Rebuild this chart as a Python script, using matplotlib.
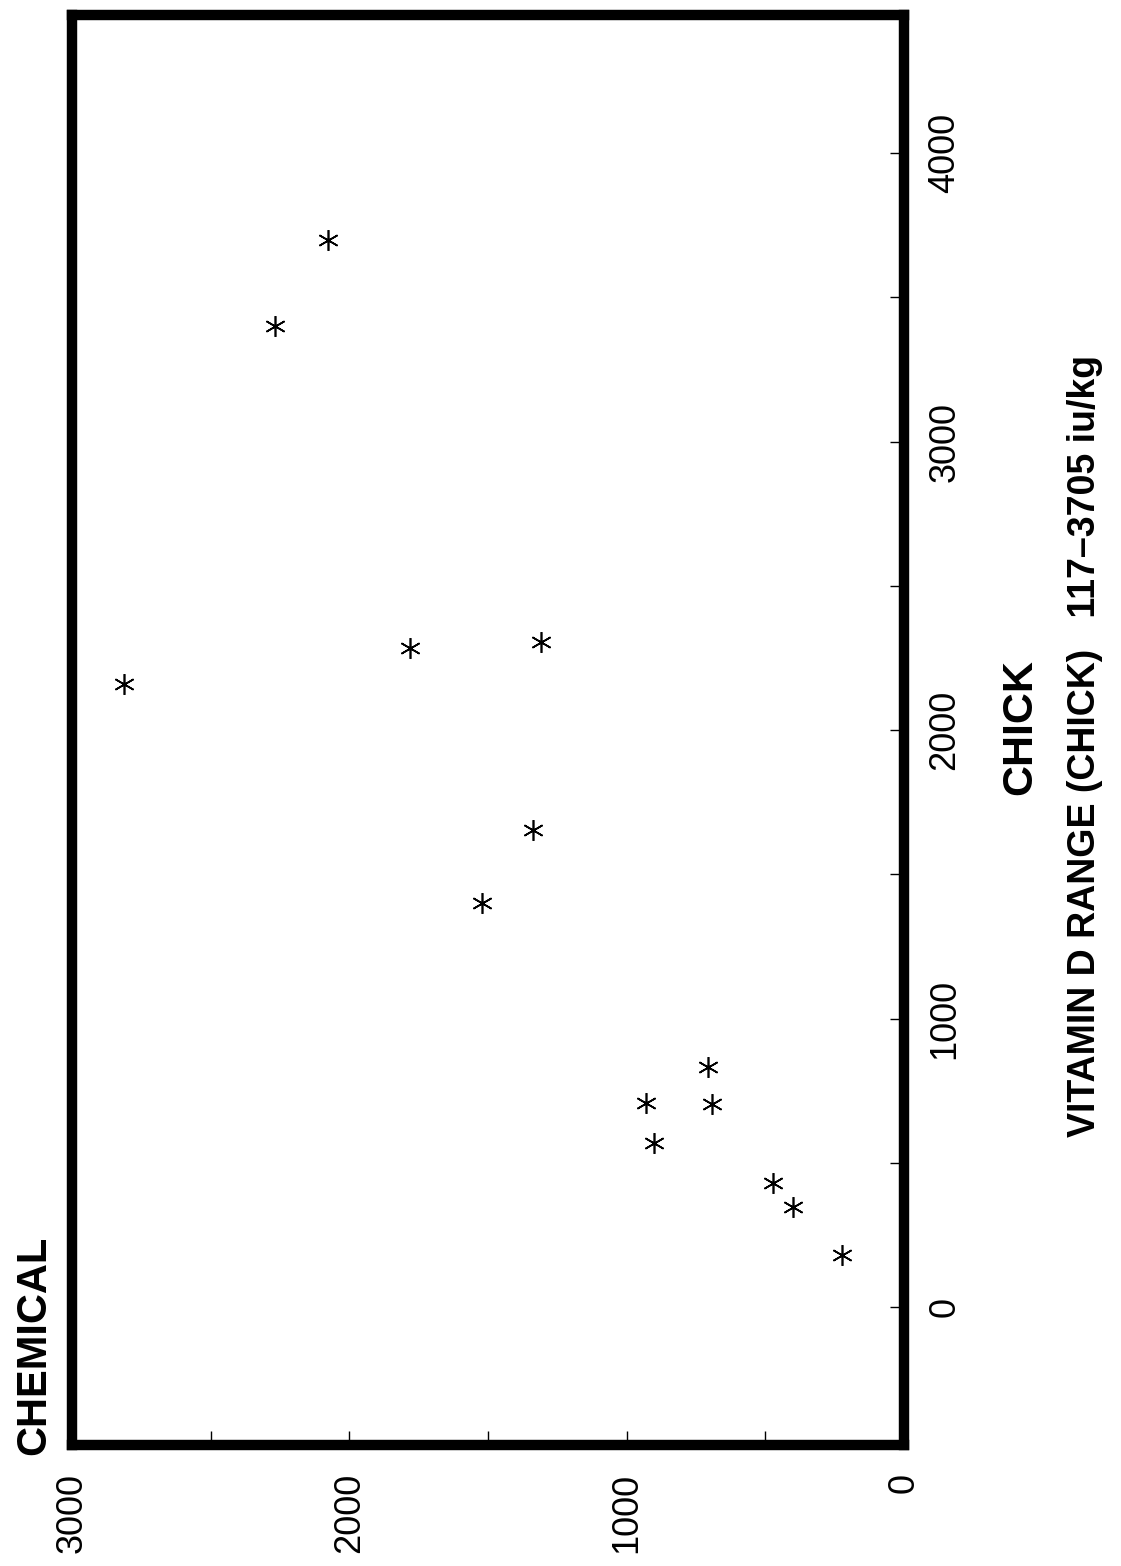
import matplotlib
matplotlib.use("Agg")
import matplotlib.pyplot as plt

plt.rcParams['font.family'] = ['Liberation Sans', 'DejaVu Sans']

# Data (CHICK vitamin D, CHEMICAL vitamin D), iu/kg
chick = [180, 347, 430, 568, 707, 704, 832, 1400, 1653, 2284, 2305, 2159, 3400, 3700]
chemical = [224, 400, 472, 902, 930, 692, 707, 1522, 1338, 1781, 1309, 2813, 2268, 2077]

chem_major = [0, 1000, 2000, 3000]
chem_minor = [500, 1500, 2500]
chick_major = [0, 1000, 2000, 3000, 4000]
chick_minor = [500, 1500, 2500, 3500]

W, H = 1121, 1566
fig = plt.figure(figsize=(W / 100, H / 100), dpi=100)
fig.patch.set_facecolor('white')

left, right, top, bottom = 72, 904, 15, 1445
ax = fig.add_axes([left / W, 1 - bottom / H, (right - left) / W, (bottom - top) / H])

ax.plot(chemical, chick, linestyle='none', marker=(6, 2, 0), markersize=15,
        markeredgewidth=1.2, color='black')

ax.set_xlim(3000, 0)
ax.set_ylim(-478, 4479)

for s in ax.spines.values():
    s.set_linewidth(7.5)
    s.set_color('black')

ax.set_xticks(chem_major)
ax.set_xticklabels([str(v) for v in chem_major], rotation=90)
ax.set_xticks(chem_minor, minor=True)
ax.yaxis.tick_right()
ax.set_yticks(chick_major)
ax.set_yticklabels([str(v) for v in chick_major], rotation=90, va='center')
ax.set_yticks(chick_minor, minor=True)

ax.tick_params(axis='both', which='both', direction='in', length=10, width=1.0,
               color='black')
ax.tick_params(axis='x', which='major', labelsize=26, pad=20)
ax.tick_params(axis='y', which='major', labelsize=26, pad=17,
               left=False, right=True)
ax.tick_params(axis='y', which='minor', left=False, right=True)

# Axis titles (rotated)
fig.text(34 / W, 1 - 1455 / H, 'CHEMICAL', rotation=90, rotation_mode='anchor',
         ha='left', va='center', fontsize=30, fontweight='bold', color='black')
fig.text(1020 / W, 1 - 727 / H, 'CHICK', rotation=90, rotation_mode='anchor',
         ha='center', va='center', fontsize=31, fontweight='bold', color='black')
fig.text(1085 / W, 1 - 1137 / H, 'VITAMIN D RANGE (CHICK)   117\u20133705 iu/kg',
         rotation=90, rotation_mode='anchor', ha='left', va='center',
         fontsize=27, fontweight='bold', color='black')

fig.savefig('out.png', dpi=100, facecolor='white')
